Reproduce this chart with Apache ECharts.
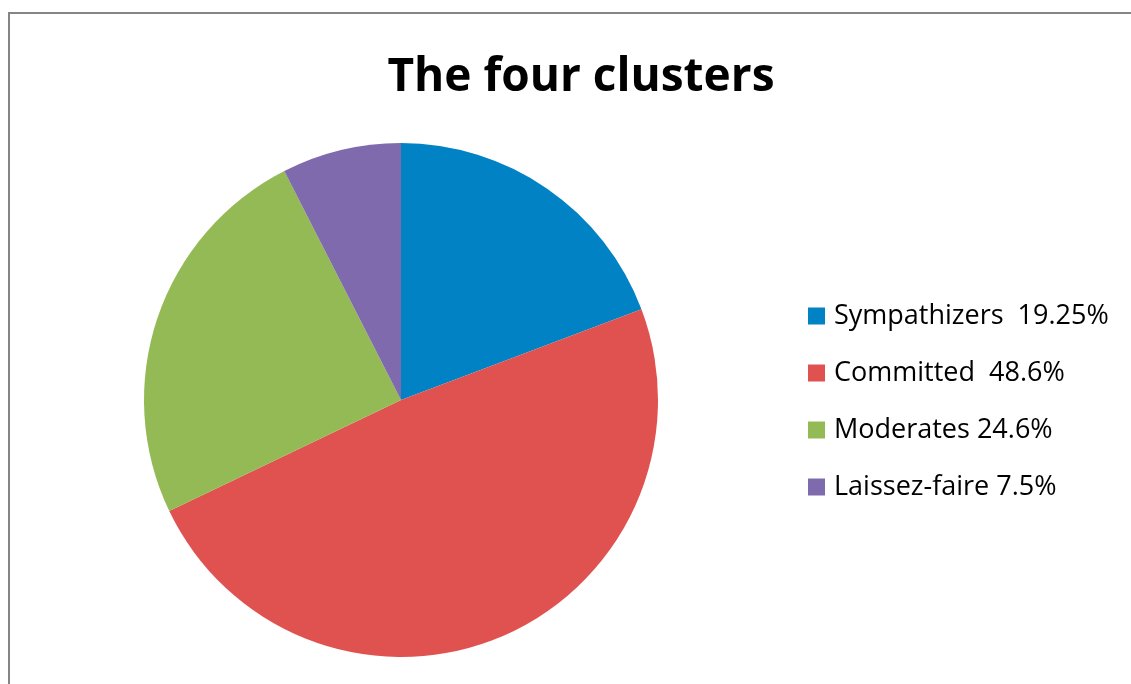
<!DOCTYPE html>
<html>
<head>
<meta charset="utf-8">
<script src="https://cdn.jsdelivr.net/npm/echarts@6/dist/echarts.min.js"></script>
<style>
  html, body { margin: 0; padding: 0; background: #fff; }
  #chart { width: 1131px; height: 684px; }
</style>
</head>
<body>
<div id="chart"></div>
<script>
// cluster shares (%)
var names = ['Sympathizers', 'Committed', 'Moderates', 'Laissez-faire'];
var values = [19.25, 48.6, 24.6, 7.5];
var legendLabels = ['Sympathizers  19.25%', 'Committed  48.6%', 'Moderates 24.6%', 'Laissez-faire 7.5%'];
var colors = ['#0082C4', '#E0524F', '#93BA54', '#7E6AAD'];

var pieData = [];
names.forEach(function (n, i) {
    pieData.push({ name: n, value: values[i], itemStyle: { color: colors[i] } });
});

var myChart = echarts.init(document.getElementById('chart'));
var option = {
    backgroundColor: '#fff',
    animation: false,
    title: {
        text: 'The four clusters',
        left: 576,
        top: 50,
        textAlign: 'center',
        textStyle: { fontFamily: 'Open Sans', fontWeight: 'bold', fontSize: 46, color: '#000' }
    },
    legend: {
        orient: 'vertical',
        left: 808,
        top: 301,
        padding: 0,
        itemWidth: 17,
        itemHeight: 17,
        itemGap: 27,
        icon: 'rect',
        data: names,
        formatter: function (n) { return legendLabels[names.indexOf(n)]; },
        textStyle: { fontFamily: 'Open Sans', fontSize: 27, lineHeight: 30, color: '#000', padding: [0, 0, 0, 4] }
    },
    graphic: [{
        type: 'rect',
        shape: { x: 9, y: 13, width: 1200, height: 800 },
        style: { fill: 'none', stroke: '#858585', lineWidth: 2 },
        silent: true
    }],
    series: [{
        type: 'pie',
        center: [401, 400],
        radius: 257,
        startAngle: 90,
        clockwise: true,
        label: { show: false },
        labelLine: { show: false },
        itemStyle: { borderWidth: 0 },
        emphasis: { disabled: true },
        data: pieData
    }]
};
myChart.setOption(option);
</script>
</body>
</html>
